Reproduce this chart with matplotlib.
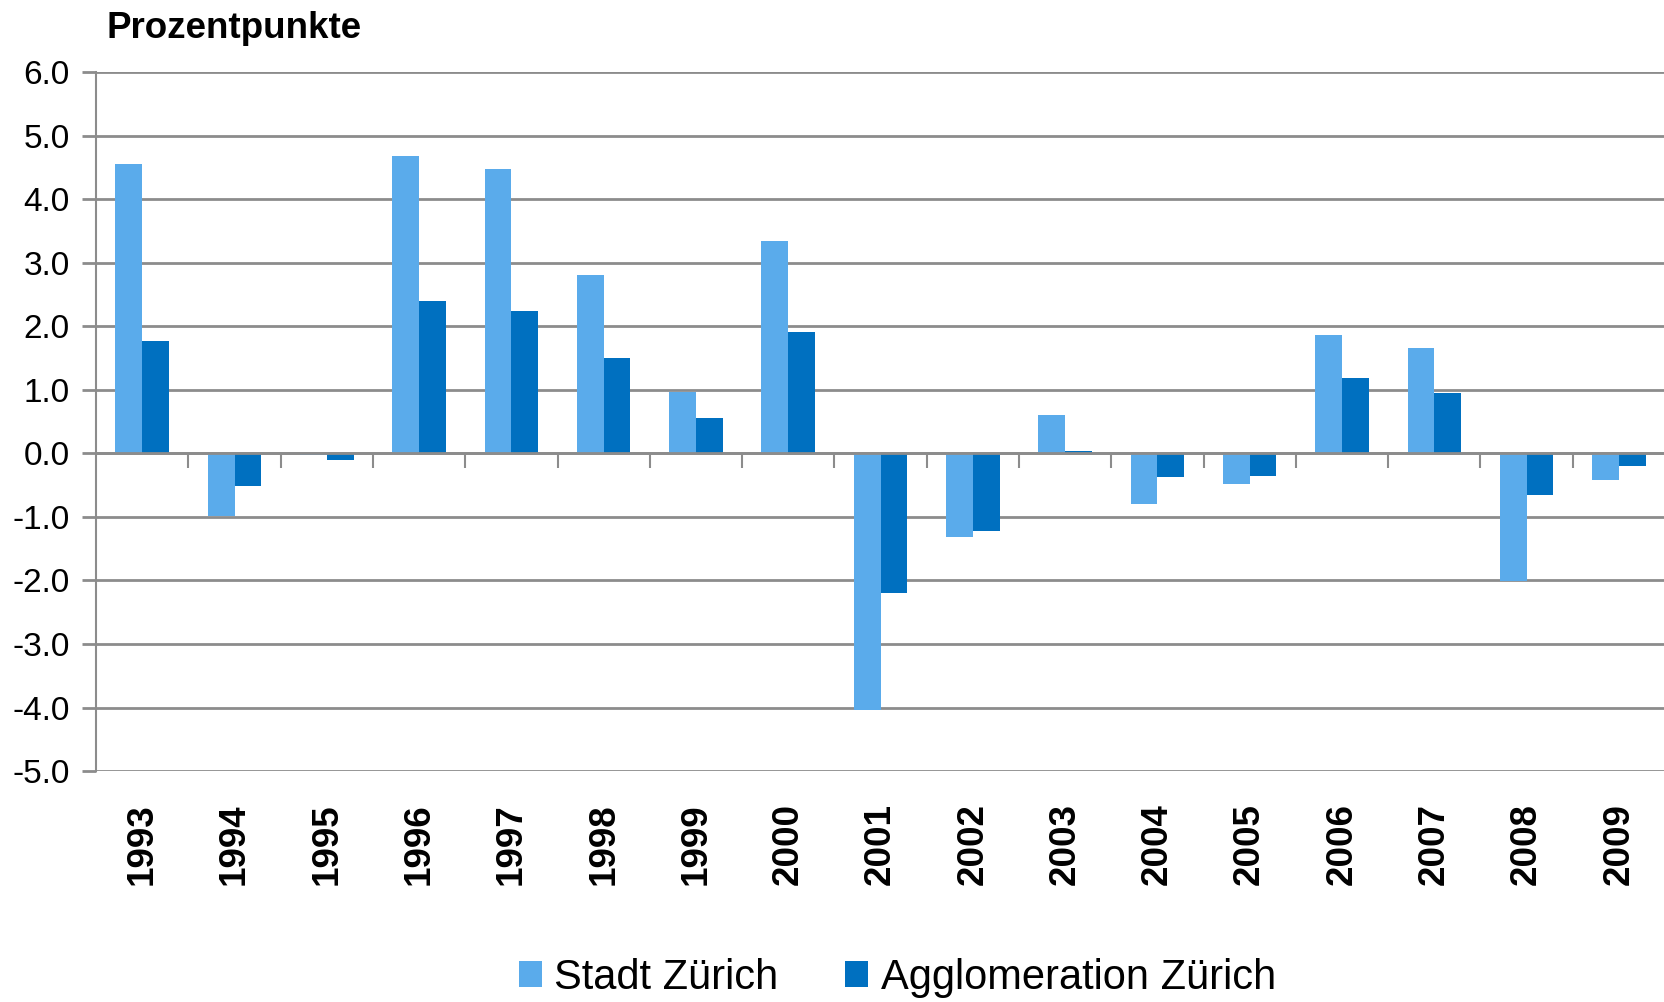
import matplotlib.pyplot as plt
import numpy as np

# Werte (Prozentpunkte)
YEARS = ["1993", "1994", "1995", "1996", "1997", "1998", "1999", "2000", "2001",
         "2002", "2003", "2004", "2005", "2006", "2007", "2008", "2009"]
STADT = [4.56, -0.98, -0.02, 4.68, 4.48, 2.81, 0.96, 3.35, -4.04,
         -1.32, 0.61, -0.79, -0.48, 1.87, 1.66, -2.01, -0.42]
AGGLO = [1.77, -0.51, -0.11, 2.40, 2.24, 1.50, 0.56, 1.91, -2.20,
         -1.22, 0.04, -0.37, -0.36, 1.18, 0.95, -0.66, -0.20]
SERIES = ["Stadt Zürich", "Agglomeration Zürich"]

C_LIGHT = "#5AABEB"
C_DARK = "#0070C0"
GRID = "#8c8c8c"

plt.rcParams["font.family"] = ["Liberation Sans", "DejaVu Sans"]

fig = plt.figure(figsize=(16.65, 10.02), dpi=100)
ax = fig.add_axes([0.0577, 0.2305, 0.9423, 0.6975])

x = np.arange(len(YEARS))
w = 0.29
ax.bar(x - w / 2, STADT, w, color=C_LIGHT, label=SERIES[0], zorder=3)
ax.bar(x + w / 2, AGGLO, w, color=C_DARK, label=SERIES[1], zorder=3)

ax.set_xlim(-0.5, len(YEARS) - 0.5)
ax.set_ylim(-5, 6)
ax.set_yticks(np.arange(-5, 7, 1))
ax.set_yticklabels([f"{v:.1f}" for v in np.arange(-5, 7, 1)], fontsize=24)
ax.yaxis.grid(True, color=GRID, lw=2, zorder=0)
ax.tick_params(axis="y", length=10, width=2, color=GRID, pad=9)

for s in ("top", "right"):
    ax.spines[s].set_visible(False)
ax.spines["left"].set_color(GRID)
ax.spines["left"].set_linewidth(1.5)
ax.spines["bottom"].set_position(("data", 0))
ax.spines["bottom"].set_color(GRID)
ax.spines["bottom"].set_linewidth(2)
ax.spines["bottom"].set_zorder(4)

# tick marks at category boundaries on the zero line
ax.set_xticks(np.arange(0.5, len(YEARS) - 0.5, 1))
ax.set_xticklabels([])
ax.tick_params(axis="x", direction="out", length=11, width=1.5, color=GRID)

# year labels at the bottom
sec = ax.secondary_xaxis("bottom")
sec.set_xticks(x)
sec.set_xticklabels(YEARS, rotation=90, fontsize=26.5, fontweight="bold")
sec.tick_params(length=0, pad=23)
sec.spines["bottom"].set_visible(False)

fig.text(0.064, 0.972, "Prozentpunkte", fontsize=26.5, fontweight="bold",
         ha="left", va="center")

fig.legend(loc="center", bbox_to_anchor=(0.539, 0.024), ncol=2, frameon=False,
           fontsize=30, handlelength=0.55, handleheight=0.6, handletextpad=0.3,
           columnspacing=1.6)

fig.savefig("out.png", dpi=100)
